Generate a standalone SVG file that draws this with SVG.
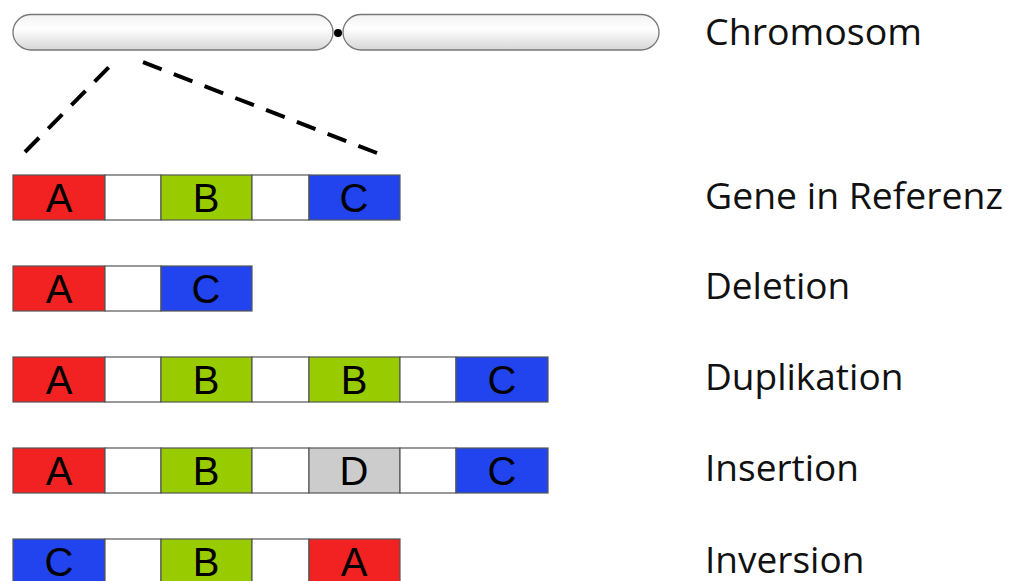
<svg xmlns="http://www.w3.org/2000/svg" width="1010" height="581" viewBox="0 0 1010 581">
<defs>
<linearGradient id="chr" x1="0" y1="0" x2="0" y2="1">
<stop offset="0" stop-color="#f2f2f2"/>
<stop offset="0.4" stop-color="#ffffff"/>
<stop offset="1" stop-color="#d6d6d6"/>
</linearGradient>
</defs>
<style>
.b{stroke:#555;stroke-width:1.2}
.r{fill:#f22222}.g{fill:#99cc00}.u{fill:#2244ee}.w{fill:#ffffff}.d{fill:#cccccc}
.t{font-family:"Liberation Sans",Arial,sans-serif;font-size:40px;fill:#000;text-anchor:middle}
.l{font-family:"Open Sans","Noto Sans",sans-serif;font-size:37px;fill:#111}
.dash{stroke:#000;stroke-width:4;stroke-dasharray:20 13;fill:none}
.chr{fill:url(#chr);stroke:#777;stroke-width:1.3}
</style>
<rect width="1010" height="581" fill="#fff"/>
<g id="chromosome">
<rect class="chr" x="13" y="14.5" width="320" height="35.5" rx="18"/>
<rect class="chr" x="343" y="14.5" width="316" height="35.5" rx="18"/>
<circle cx="338" cy="33" r="4" fill="#000"/>
<text class="l" x="705" y="45" textLength="217" lengthAdjust="spacingAndGlyphs">Chromosom</text>
</g>
<g id="connectors">
<line class="dash" x1="25" y1="152" x2="115" y2="61"/>
<line class="dash" x1="377" y1="153" x2="140" y2="61"/>
</g>
<g id="reference">
<rect class="b r" x="13" y="175" width="92" height="45"/>
<rect class="b w" x="105" y="175" width="56" height="45"/>
<rect class="b g" x="161" y="175" width="91" height="45"/>
<rect class="b w" x="252" y="175" width="57" height="45"/>
<rect class="b u" x="309" y="175" width="91" height="45"/>
<text class="t" x="59" y="212">A</text>
<text class="t" x="206" y="212">B</text>
<text class="t" x="354" y="212">C</text>
<text class="l" x="705" y="209" textLength="298" lengthAdjust="spacingAndGlyphs">Gene in Referenz</text>
</g>
<g id="deletion">
<rect class="b r" x="13" y="266" width="92" height="45"/>
<rect class="b w" x="105" y="266" width="56" height="45"/>
<rect class="b u" x="161" y="266" width="91" height="45"/>
<text class="t" x="59" y="303">A</text>
<text class="t" x="206" y="303">C</text>
<text class="l" x="705" y="299">Deletion</text>
</g>
<g id="duplication">
<rect class="b r" x="13" y="357" width="92" height="45"/>
<rect class="b w" x="105" y="357" width="56" height="45"/>
<rect class="b g" x="161" y="357" width="91" height="45"/>
<rect class="b w" x="252" y="357" width="57" height="45"/>
<rect class="b g" x="309" y="357" width="91" height="45"/>
<rect class="b w" x="400" y="357" width="56" height="45"/>
<rect class="b u" x="456" y="357" width="92" height="45"/>
<text class="t" x="59" y="394">A</text>
<text class="t" x="206" y="394">B</text>
<text class="t" x="354" y="394">B</text>
<text class="t" x="502" y="394">C</text>
<text class="l" x="705" y="390">Duplikation</text>
</g>
<g id="insertion">
<rect class="b r" x="13" y="448" width="92" height="45"/>
<rect class="b w" x="105" y="448" width="56" height="45"/>
<rect class="b g" x="161" y="448" width="91" height="45"/>
<rect class="b w" x="252" y="448" width="57" height="45"/>
<rect class="b d" x="309" y="448" width="91" height="45"/>
<rect class="b w" x="400" y="448" width="56" height="45"/>
<rect class="b u" x="456" y="448" width="92" height="45"/>
<text class="t" x="59" y="485">A</text>
<text class="t" x="206" y="485">B</text>
<text class="t" x="354" y="485">D</text>
<text class="t" x="502" y="485">C</text>
<text class="l" x="705" y="481">Insertion</text>
</g>
<g id="inversion">
<rect class="b u" x="13" y="539" width="92" height="45"/>
<rect class="b w" x="105" y="539" width="56" height="45"/>
<rect class="b g" x="161" y="539" width="91" height="45"/>
<rect class="b w" x="252" y="539" width="57" height="45"/>
<rect class="b r" x="309" y="539" width="91" height="45"/>
<text class="t" x="59" y="576">C</text>
<text class="t" x="206" y="576">B</text>
<text class="t" x="354" y="576">A</text>
<text class="l" x="705" y="573">Inversion</text>
</g>
</svg>
